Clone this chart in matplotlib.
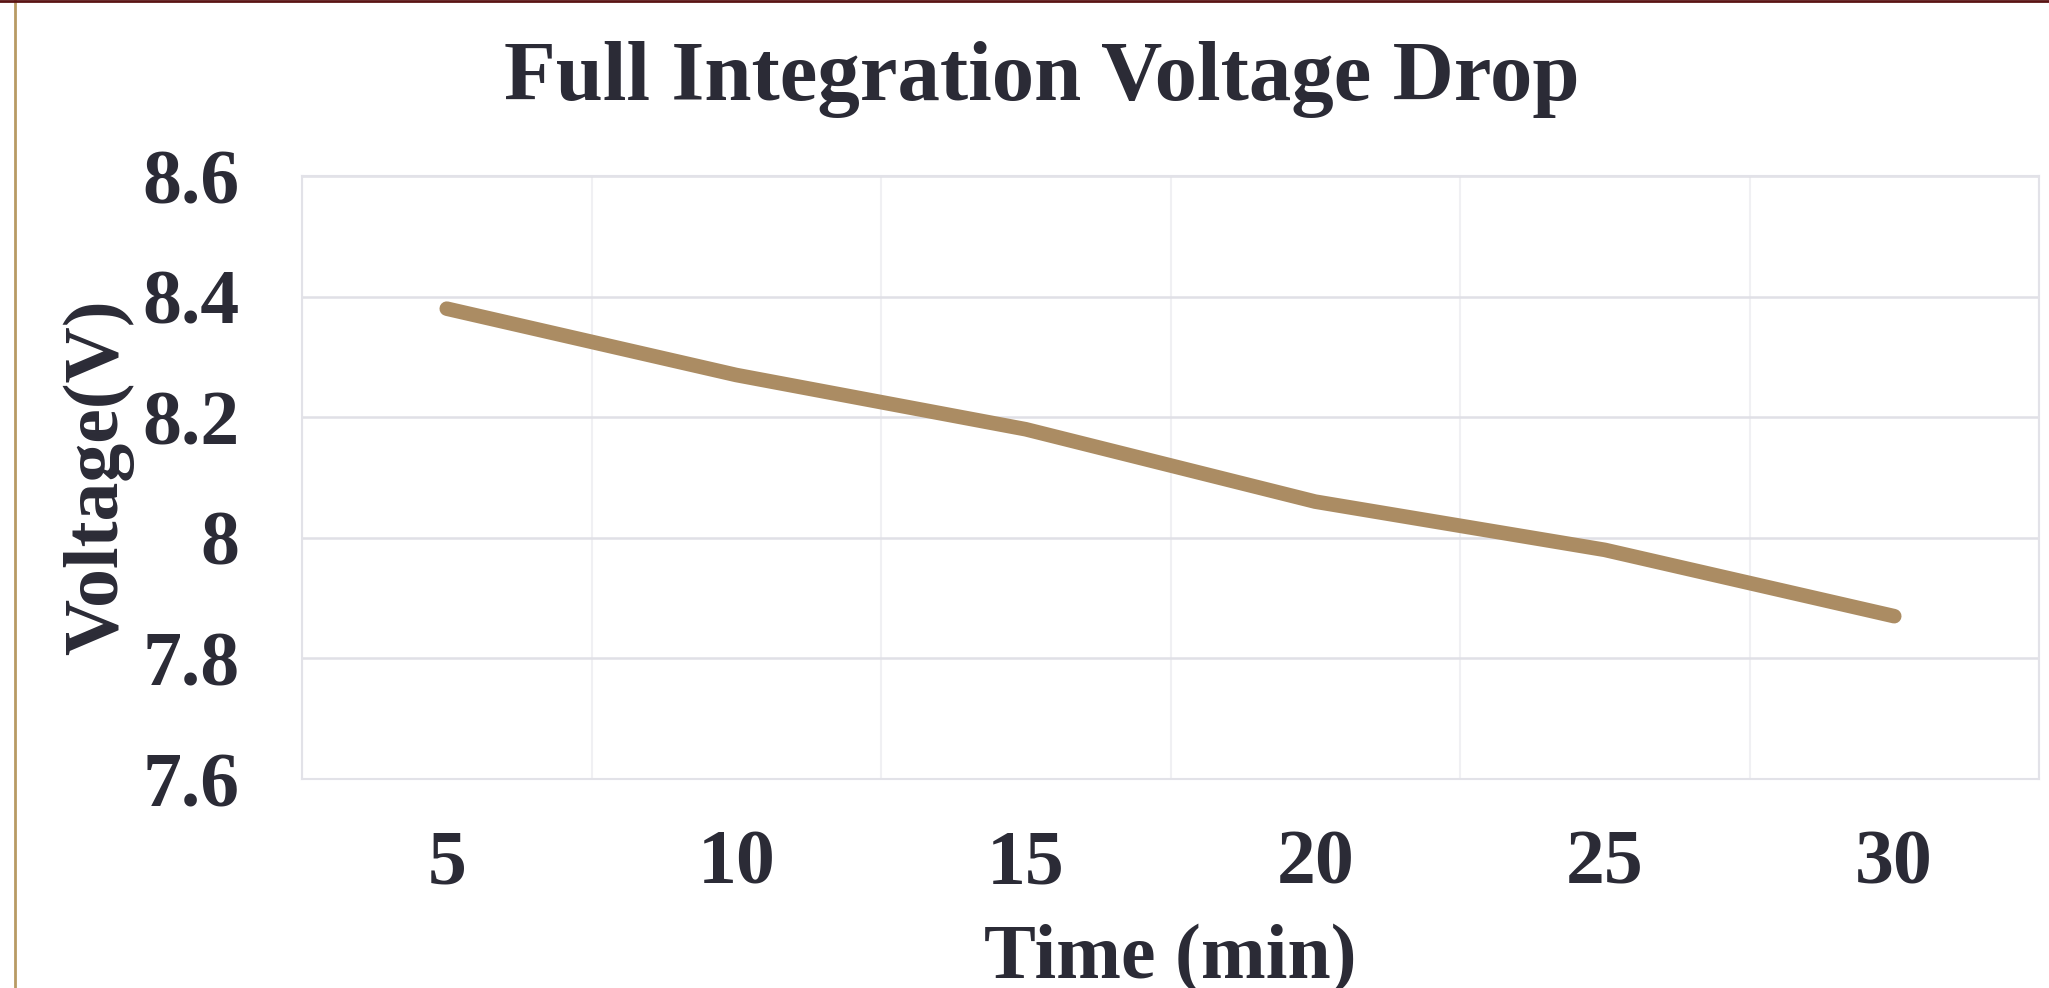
import numpy as np
import matplotlib
matplotlib.use("Agg")
import matplotlib.pyplot as plt
from matplotlib.lines import Line2D

# data
times = [5, 10, 15, 20, 25, 30]
voltage = [8.38, 8.27, 8.18, 8.06, 7.98, 7.87]
y_ticks = [7.6, 7.8, 8.0, 8.2, 8.4, 8.6]
y_tick_labels = ["7.6", "7.8", "8", "8.2", "8.4", "8.6"]

TEXT = "#2b2b36"
LINE = "#ab8c63"


def main():
    plt.rcParams["font.family"] = ["Liberation Serif", "DejaVu Serif"]
    plt.rcParams["font.weight"] = "bold"

    fig = plt.figure(figsize=(20.49, 9.88), dpi=100)
    ax = fig.add_axes([302 / 2049, 1 - 779 / 988, 1737 / 2049, 603 / 988])

    ax.plot(times, voltage, color=LINE, lw=10.5, solid_capstyle="round",
            solid_joinstyle="round", zorder=3)

    ax.set_xlim(2.5, 32.5)
    ax.set_ylim(7.6, 8.6)
    ax.set_xticks(times)
    ax.set_xticklabels([str(t) for t in times])
    ax.set_xticks(np.arange(2.5, 33, 2.5), minor=True)
    ax.set_yticks(y_ticks)
    ax.set_yticklabels(y_tick_labels)

    ax.grid(True, which="minor", axis="x", color="#f0f0f3", lw=1.5, zorder=0)
    ax.grid(True, which="major", axis="y", color="#e0e0e6", lw=1.8, zorder=0)
    ax.tick_params(which="both", length=0)
    ax.tick_params(axis="y", pad=45, labelsize=56, labelcolor=TEXT)
    ax.tick_params(axis="x", pad=36, labelsize=56, labelcolor=TEXT)
    for s in ax.spines.values():
        s.set_color("#e2e2e8")
        s.set_linewidth(1.5)

    ax.set_ylabel("Voltage(V)", fontsize=56, color=TEXT, fontweight="bold")
    ax.yaxis.set_label_coords(-0.1174, 0.5)
    ax.set_xlabel("Time (min)", fontsize=56, color=TEXT, fontweight="bold")
    ax.xaxis.set_label_coords(0.5, -0.30)
    ax.xaxis.label.set_va("center")
    ax.yaxis.label.set_va("center")

    fig.text(1042 / 2049, 1 - 100 / 988, "Full Integration Voltage Drop",
             ha="center", va="baseline", fontsize=61, color=TEXT,
             fontweight="bold")

    # frame lines around the picture
    fig.add_artist(Line2D([15 / 2049, 15 / 2049], [0, 1], color="#b89a64",
                          lw=2, transform=fig.transFigure))
    fig.add_artist(Line2D([0, 1], [1 - 1 / 988, 1 - 1 / 988], color="#5a1414",
                          lw=2, transform=fig.transFigure))

    fig.savefig("out.png", dpi=100)


if __name__ == "__main__":
    main()
